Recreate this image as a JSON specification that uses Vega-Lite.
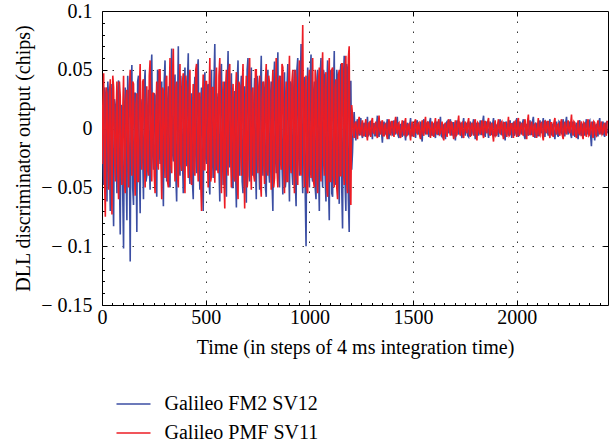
{
"$schema": "https://vega.github.io/schema/vega-lite/v6.json",
"width": 506, "height": 294,
"autosize": {"type": "none"},
"padding": {"left": 102, "top": 11, "right": 5, "bottom": 139},
"background": "white",
"config": {"view": {"stroke": "black", "strokeWidth": 1}, "font": "Liberation Serif"},
"data": {"values": [
{"t":0,"a":0.012,"b":-0.03},{"t":8,"a":-0.048,"b":0.047},{"t":16,"a":0.03,"b":-0.075},{"t":24,"a":-0.062,"b":0.03},{"t":32,"a":0.025,"b":-0.052},{"t":40,"a":-0.07,"b":0.042},{"t":48,"a":0.038,"b":-0.073},{"t":56,"a":-0.083,"b":0.035},{"t":64,"a":0.02,"b":-0.045},{"t":72,"a":-0.055,"b":0.04},
{"t":80,"a":0.041,"b":-0.06},{"t":88,"a":-0.09,"b":0.028},{"t":96,"a":0.018,"b":-0.048},{"t":104,"a":-0.102,"b":0.045},{"t":112,"a":0.035,"b":-0.055},{"t":120,"a":-0.078,"b":0.033},{"t":128,"a":0.022,"b":-0.05},{"t":136,"a":-0.113,"b":0.05},{"t":144,"a":0.054,"b":-0.04},{"t":152,"a":-0.065,"b":0.038},
{"t":160,"a":0.03,"b":-0.057},{"t":168,"a":-0.088,"b":0.03},{"t":176,"a":0.045,"b":-0.045},{"t":184,"a":-0.072,"b":0.055},{"t":192,"a":0.012,"b":-0.035},{"t":200,"a":-0.06,"b":0.042},{"t":208,"a":0.05,"b":-0.05},{"t":216,"a":-0.04,"b":0.036},{"t":224,"a":0.033,"b":-0.04},{"t":232,"a":-0.052,"b":0.058},
{"t":240,"a":0.063,"b":-0.045},{"t":248,"a":-0.035,"b":0.03},{"t":256,"a":0.028,"b":-0.055},{"t":264,"a":-0.058,"b":0.04},{"t":272,"a":0.048,"b":-0.035},{"t":280,"a":-0.03,"b":0.05},{"t":288,"a":0.04,"b":-0.06},{"t":296,"a":-0.066,"b":0.032},{"t":304,"a":0.058,"b":-0.042},{"t":312,"a":-0.045,"b":0.045},
{"t":320,"a":0.036,"b":-0.05},{"t":328,"a":-0.05,"b":0.06},{"t":336,"a":0.068,"b":-0.038},{"t":344,"a":-0.028,"b":0.068},{"t":352,"a":0.046,"b":-0.045},{"t":360,"a":-0.062,"b":0.04},{"t":368,"a":0.07,"b":-0.05},{"t":376,"a":-0.04,"b":0.055},{"t":384,"a":0.025,"b":-0.036},{"t":392,"a":-0.055,"b":0.047},
{"t":400,"a":0.052,"b":-0.055},{"t":408,"a":-0.032,"b":0.035},{"t":416,"a":0.064,"b":-0.042},{"t":424,"a":-0.047,"b":0.05},{"t":432,"a":0.03,"b":-0.048},{"t":440,"a":-0.06,"b":0.038},{"t":448,"a":0.044,"b":-0.04},{"t":456,"a":-0.038,"b":0.055},{"t":464,"a":0.059,"b":-0.045},{"t":472,"a":-0.052,"b":0.03},
{"t":480,"a":0.035,"b":-0.07},{"t":488,"a":-0.07,"b":0.046},{"t":496,"a":0.048,"b":-0.035},{"t":504,"a":-0.03,"b":0.04},{"t":512,"a":0.038,"b":-0.05},{"t":520,"a":-0.056,"b":0.06},{"t":528,"a":0.05,"b":-0.04},{"t":536,"a":-0.042,"b":0.035},{"t":544,"a":0.072,"b":-0.046},{"t":552,"a":-0.035,"b":0.052},
{"t":560,"a":0.03,"b":-0.038},{"t":568,"a":-0.062,"b":0.06},{"t":576,"a":0.055,"b":-0.055},{"t":584,"a":-0.048,"b":0.04},{"t":592,"a":0.04,"b":-0.068},{"t":600,"a":-0.058,"b":0.05},{"t":608,"a":0.066,"b":-0.04},{"t":616,"a":-0.033,"b":0.055},{"t":624,"a":0.047,"b":-0.05},{"t":632,"a":-0.05,"b":0.038},
{"t":640,"a":0.032,"b":-0.045},{"t":648,"a":-0.067,"b":0.048},{"t":656,"a":0.058,"b":-0.06},{"t":664,"a":-0.04,"b":0.036},{"t":672,"a":0.045,"b":-0.04},{"t":680,"a":-0.055,"b":0.055},{"t":688,"a":0.036,"b":-0.068},{"t":696,"a":-0.063,"b":0.045},{"t":704,"a":0.06,"b":-0.04},{"t":712,"a":-0.045,"b":0.06},
{"t":720,"a":0.052,"b":-0.052},{"t":728,"a":-0.034,"b":0.035},{"t":736,"a":0.043,"b":-0.045},{"t":744,"a":-0.06,"b":0.05},{"t":752,"a":0.034,"b":-0.038},{"t":760,"a":-0.052,"b":0.045},{"t":768,"a":0.062,"b":-0.058},{"t":776,"a":-0.04,"b":0.04},{"t":784,"a":0.03,"b":-0.047},{"t":792,"a":-0.058,"b":0.055},
{"t":800,"a":0.05,"b":-0.04},{"t":808,"a":-0.046,"b":0.038},{"t":816,"a":0.04,"b":-0.052},{"t":824,"a":-0.07,"b":0.05},{"t":832,"a":0.057,"b":-0.042},{"t":840,"a":-0.038,"b":0.06},{"t":848,"a":0.065,"b":-0.05},{"t":856,"a":-0.05,"b":0.045},{"t":864,"a":0.033,"b":-0.035},{"t":872,"a":-0.056,"b":0.052},
{"t":880,"a":0.048,"b":-0.055},{"t":888,"a":-0.042,"b":0.04},{"t":896,"a":0.055,"b":-0.045},{"t":904,"a":-0.062,"b":0.062},{"t":912,"a":0.038,"b":-0.038},{"t":920,"a":-0.048,"b":0.05},{"t":928,"a":0.05,"b":-0.055},{"t":936,"a":-0.066,"b":0.042},{"t":944,"a":0.06,"b":-0.048},{"t":952,"a":-0.04,"b":0.058},
{"t":960,"a":0.072,"b":-0.04},{"t":968,"a":-0.055,"b":0.088},{"t":976,"a":0.044,"b":-0.05},{"t":984,"a":-0.1,"b":0.045},{"t":992,"a":0.052,"b":-0.055},{"t":1000,"a":-0.05,"b":0.05},{"t":1008,"a":0.063,"b":-0.042},{"t":1016,"a":-0.045,"b":0.06},{"t":1024,"a":0.04,"b":-0.05},{"t":1032,"a":-0.06,"b":0.04},
{"t":1040,"a":0.05,"b":-0.055},{"t":1048,"a":-0.07,"b":0.052},{"t":1056,"a":0.06,"b":-0.045},{"t":1064,"a":-0.05,"b":0.065},{"t":1072,"a":0.045,"b":-0.04},{"t":1080,"a":-0.062,"b":0.048},{"t":1088,"a":0.058,"b":-0.058},{"t":1096,"a":-0.078,"b":0.06},{"t":1104,"a":0.05,"b":-0.045},{"t":1112,"a":-0.058,"b":0.052},
{"t":1120,"a":0.066,"b":-0.05},{"t":1128,"a":-0.048,"b":0.042},{"t":1136,"a":0.042,"b":-0.06},{"t":1144,"a":-0.064,"b":0.05},{"t":1152,"a":0.055,"b":-0.04},{"t":1160,"a":-0.085,"b":0.055},{"t":1168,"a":0.062,"b":-0.048},{"t":1176,"a":-0.07,"b":0.062},{"t":1184,"a":0.05,"b":-0.055},{"t":1192,"a":-0.088,"b":0.07},
{"t":1200,"a":0.04,"b":-0.065},
{"t":4,"a":-0.02,"b":0.02},{"t":12,"a":0.035,"b":-0.04},{"t":20,"a":-0.01,"b":0.035},{"t":28,"a":0.04,"b":-0.015},{"t":36,"a":-0.03,"b":0.03},{"t":44,"a":0.015,"b":-0.025},{"t":52,"a":-0.045,"b":0.045},{"t":60,"a":0.025,"b":-0.02},{"t":68,"a":-0.015,"b":0.01},{"t":76,"a":0.03,"b":-0.035},
{"t":84,"a":-0.04,"b":0.04},{"t":92,"a":0.02,"b":-0.03},{"t":100,"a":-0.055,"b":0.015},{"t":108,"a":0.01,"b":-0.045},{"t":116,"a":-0.035,"b":0.025},{"t":124,"a":0.045,"b":-0.02},{"t":132,"a":-0.025,"b":0.035},{"t":140,"a":0.02,"b":-0.01},{"t":148,"a":-0.05,"b":0.04},{"t":156,"a":0.03,"b":-0.03},
{"t":164,"a":-0.015,"b":0.02},{"t":172,"a":0.04,"b":-0.045},{"t":180,"a":-0.03,"b":0.03},{"t":188,"a":0.025,"b":-0.015},{"t":196,"a":-0.02,"b":0.04},{"t":204,"a":0.035,"b":-0.025},{"t":212,"a":-0.045,"b":0.02},{"t":220,"a":0.015,"b":-0.035},{"t":228,"a":-0.03,"b":0.045},{"t":236,"a":0.045,"b":-0.02},
{"t":244,"a":-0.02,"b":0.03},{"t":252,"a":0.03,"b":-0.04},{"t":260,"a":-0.04,"b":0.015},{"t":268,"a":0.05,"b":-0.03},{"t":276,"a":-0.015,"b":0.05},{"t":284,"a":0.025,"b":-0.025},{"t":292,"a":-0.035,"b":0.035},{"t":300,"a":0.04,"b":-0.02},{"t":308,"a":-0.025,"b":0.04},{"t":316,"a":0.02,"b":-0.045},
{"t":324,"a":-0.045,"b":0.025},{"t":332,"a":0.035,"b":-0.03},{"t":340,"a":-0.02,"b":0.045},{"t":348,"a":0.03,"b":-0.015},{"t":356,"a":-0.04,"b":0.035},{"t":364,"a":0.015,"b":-0.04},{"t":372,"a":-0.03,"b":0.02},{"t":380,"a":0.045,"b":-0.03},{"t":388,"a":-0.025,"b":0.04},{"t":396,"a":0.035,"b":-0.025},
{"t":404,"a":-0.015,"b":0.045},{"t":412,"a":0.04,"b":-0.02},{"t":420,"a":-0.035,"b":0.03},{"t":428,"a":0.02,"b":-0.04},{"t":436,"a":-0.045,"b":0.015},{"t":444,"a":0.03,"b":-0.035},{"t":452,"a":-0.02,"b":0.05},{"t":460,"a":0.05,"b":-0.025},{"t":468,"a":-0.03,"b":0.03},{"t":476,"a":0.025,"b":-0.045},
{"t":484,"a":-0.04,"b":0.02},{"t":492,"a":0.015,"b":-0.035},{"t":500,"a":-0.025,"b":0.04},{"t":508,"a":0.035,"b":-0.02},{"t":516,"a":-0.045,"b":0.025},{"t":524,"a":0.03,"b":-0.045},{"t":532,"a":-0.02,"b":0.035},{"t":540,"a":0.04,"b":-0.015},{"t":548,"a":-0.035,"b":0.04},{"t":556,"a":0.02,"b":-0.03},
{"t":564,"a":-0.03,"b":0.045},{"t":572,"a":0.045,"b":-0.025},{"t":580,"a":-0.015,"b":0.02},{"t":588,"a":0.025,"b":-0.04},{"t":596,"a":-0.04,"b":0.035},{"t":604,"a":0.035,"b":-0.03},{"t":612,"a":-0.025,"b":0.05},{"t":620,"a":0.03,"b":-0.02},{"t":628,"a":-0.05,"b":0.025},{"t":636,"a":0.02,"b":-0.04},
{"t":644,"a":-0.035,"b":0.03},{"t":652,"a":0.04,"b":-0.045},{"t":660,"a":-0.02,"b":0.04},{"t":668,"a":0.03,"b":-0.015},{"t":676,"a":-0.045,"b":0.035},{"t":684,"a":0.025,"b":-0.03},{"t":692,"a":-0.03,"b":0.02},{"t":700,"a":0.05,"b":-0.05},{"t":708,"a":-0.015,"b":0.045},{"t":716,"a":0.035,"b":-0.025},
{"t":724,"a":-0.04,"b":0.03},{"t":732,"a":0.02,"b":-0.04},{"t":740,"a":-0.03,"b":0.05},{"t":748,"a":0.045,"b":-0.02},{"t":756,"a":-0.025,"b":0.035},{"t":764,"a":0.035,"b":-0.045},{"t":772,"a":-0.02,"b":0.025},{"t":780,"a":0.04,"b":-0.03},{"t":788,"a":-0.05,"b":0.04},{"t":796,"a":0.03,"b":-0.035},
{"t":804,"a":-0.035,"b":0.045},{"t":812,"a":0.025,"b":-0.02},{"t":820,"a":-0.045,"b":0.03},{"t":828,"a":0.04,"b":-0.05},{"t":836,"a":-0.02,"b":0.025},{"t":844,"a":0.03,"b":-0.035},{"t":852,"a":-0.04,"b":0.04},{"t":860,"a":0.045,"b":-0.025},{"t":868,"a":-0.03,"b":0.055},{"t":876,"a":0.02,"b":-0.03},
{"t":884,"a":-0.05,"b":0.02},{"t":892,"a":0.035,"b":-0.045},{"t":900,"a":-0.025,"b":0.035},{"t":908,"a":0.04,"b":-0.03},{"t":916,"a":-0.035,"b":0.04},{"t":924,"a":0.03,"b":-0.025},{"t":932,"a":-0.045,"b":0.05},{"t":940,"a":0.05,"b":-0.04},{"t":948,"a":-0.02,"b":0.03},{"t":956,"a":0.035,"b":-0.035},
{"t":964,"a":-0.03,"b":0.045},{"t":972,"a":0.04,"b":-0.02},{"t":980,"a":-0.055,"b":0.035},{"t":988,"a":0.025,"b":-0.05},{"t":996,"a":-0.035,"b":0.04},{"t":1004,"a":0.045,"b":-0.03},{"t":1012,"a":-0.04,"b":0.025},{"t":1020,"a":0.03,"b":-0.045},{"t":1028,"a":-0.05,"b":0.05},{"t":1036,"a":0.04,"b":-0.035},
{"t":1044,"a":-0.035,"b":0.04},{"t":1052,"a":0.045,"b":-0.03},{"t":1060,"a":-0.03,"b":0.045},{"t":1068,"a":0.05,"b":-0.025},{"t":1076,"a":-0.04,"b":0.035},{"t":1084,"a":0.035,"b":-0.05},{"t":1092,"a":-0.045,"b":0.04},{"t":1100,"a":0.04,"b":-0.045},{"t":1108,"a":-0.055,"b":0.05},{"t":1116,"a":0.03,"b":-0.04},
{"t":1124,"a":-0.04,"b":0.035},{"t":1132,"a":0.05,"b":-0.05},{"t":1140,"a":-0.035,"b":0.045},{"t":1148,"a":0.045,"b":-0.04},{"t":1156,"a":-0.05,"b":0.055},{"t":1164,"a":0.04,"b":-0.035},{"t":1172,"a":-0.045,"b":0.05},{"t":1180,"a":0.055,"b":-0.045},{"t":1188,"a":-0.06,"b":0.06},{"t":1196,"a":0.04,"b":-0.05},
{"t":1204,"a":-0.035,"b":0.02},
{"t":1208,"a":-0.02,"b":0.012},{"t":1216,"a":0.014,"b":-0.008},{"t":1224,"a":-0.01,"b":0.006},{"t":1232,"a":0.008,"b":-0.009},{"t":1240,"a":-0.006,"b":0.01},{"t":1248,"a":0.009,"b":-0.005},{"t":1256,"a":-0.008,"b":0.007},{"t":1264,"a":0.005,"b":-0.006},{"t":1272,"a":-0.007,"b":0.008},{"t":1280,"a":0.01,"b":-0.01},
{"t":1288,"a":-0.005,"b":0.005},{"t":1296,"a":0.006,"b":-0.007},{"t":1304,"a":-0.009,"b":0.009},{"t":1312,"a":0.004,"b":-0.004},{"t":1320,"a":-0.006,"b":0.006},{"t":1328,"a":0.011,"b":-0.008},{"t":1336,"a":-0.007,"b":0.011},{"t":1344,"a":0.005,"b":-0.005},{"t":1352,"a":-0.012,"b":0.007},{"t":1360,"a":0.006,"b":-0.006},
{"t":1368,"a":-0.004,"b":0.004},{"t":1376,"a":0.008,"b":-0.009},{"t":1384,"a":-0.009,"b":0.008},{"t":1392,"a":0.003,"b":-0.005},{"t":1400,"a":-0.006,"b":0.006},{"t":1408,"a":0.007,"b":-0.007},{"t":1416,"a":-0.005,"b":0.01},{"t":1424,"a":0.01,"b":-0.004},{"t":1432,"a":-0.008,"b":0.005},{"t":1440,"a":0.004,"b":-0.008},
{"t":1448,"a":-0.007,"b":0.007},{"t":1456,"a":0.006,"b":-0.006},{"t":1464,"a":-0.01,"b":0.009},{"t":1472,"a":0.005,"b":-0.005},{"t":1480,"a":-0.004,"b":0.004},{"t":1488,"a":0.009,"b":-0.01},{"t":1496,"a":-0.006,"b":0.006},{"t":1504,"a":0.003,"b":-0.007},{"t":1512,"a":-0.008,"b":0.008},{"t":1520,"a":0.007,"b":-0.004},
{"t":1528,"a":-0.005,"b":0.005},{"t":1536,"a":0.006,"b":-0.009},{"t":1544,"a":-0.011,"b":0.007},{"t":1552,"a":0.008,"b":-0.006},{"t":1560,"a":-0.004,"b":0.01},{"t":1568,"a":0.005,"b":-0.005},{"t":1576,"a":-0.007,"b":0.004},{"t":1584,"a":0.009,"b":-0.008},{"t":1592,"a":-0.006,"b":0.006},{"t":1600,"a":0.004,"b":-0.007},
{"t":1608,"a":-0.008,"b":0.009},{"t":1616,"a":0.006,"b":-0.005},{"t":1624,"a":-0.005,"b":0.008},{"t":1632,"a":0.01,"b":-0.004},{"t":1640,"a":-0.007,"b":0.006},{"t":1648,"a":0.003,"b":-0.01},{"t":1656,"a":-0.009,"b":0.005},{"t":1664,"a":0.006,"b":-0.007},{"t":1672,"a":-0.004,"b":0.008},{"t":1680,"a":0.008,"b":-0.006},
{"t":1688,"a":-0.006,"b":0.004},{"t":1696,"a":0.005,"b":-0.009},{"t":1704,"a":-0.01,"b":0.007},{"t":1712,"a":0.007,"b":-0.005},{"t":1720,"a":-0.005,"b":0.011},{"t":1728,"a":0.004,"b":-0.006},{"t":1736,"a":-0.008,"b":0.005},{"t":1744,"a":0.009,"b":-0.008},{"t":1752,"a":-0.006,"b":0.006},{"t":1760,"a":0.005,"b":-0.004},
{"t":1768,"a":-0.007,"b":0.009},{"t":1776,"a":0.006,"b":-0.007},{"t":1784,"a":-0.004,"b":0.005},{"t":1792,"a":0.008,"b":-0.006},{"t":1800,"a":-0.009,"b":0.008},{"t":1808,"a":0.003,"b":-0.01},{"t":1816,"a":-0.006,"b":0.004},{"t":1824,"a":0.007,"b":-0.005},{"t":1832,"a":-0.005,"b":0.007},{"t":1840,"a":0.011,"b":-0.008},
{"t":1848,"a":-0.007,"b":0.006},{"t":1856,"a":0.004,"b":-0.004},{"t":1864,"a":-0.008,"b":0.009},{"t":1872,"a":0.006,"b":-0.006},{"t":1880,"a":-0.005,"b":0.005},{"t":1888,"a":0.009,"b":-0.011},{"t":1896,"a":-0.006,"b":0.007},{"t":1904,"a":0.003,"b":-0.005},{"t":1912,"a":-0.007,"b":0.008},{"t":1920,"a":0.008,"b":-0.004},
{"t":1928,"a":-0.005,"b":0.006},{"t":1936,"a":0.006,"b":-0.009},{"t":1944,"a":-0.01,"b":0.005},{"t":1952,"a":0.004,"b":-0.007},{"t":1960,"a":-0.006,"b":0.01},{"t":1968,"a":0.007,"b":-0.005},{"t":1976,"a":-0.008,"b":0.004},{"t":1984,"a":0.005,"b":-0.008},{"t":1992,"a":-0.004,"b":0.006},{"t":2000,"a":0.009,"b":-0.007},
{"t":2008,"a":-0.007,"b":0.009},{"t":2016,"a":0.006,"b":-0.004},{"t":2024,"a":-0.005,"b":0.005},{"t":2032,"a":0.008,"b":-0.006},{"t":2040,"a":-0.009,"b":0.008},{"t":2048,"a":0.004,"b":-0.009},{"t":2056,"a":-0.006,"b":0.012},{"t":2064,"a":0.007,"b":-0.005},{"t":2072,"a":-0.005,"b":0.006},{"t":2080,"a":0.01,"b":-0.007},
{"t":2088,"a":-0.008,"b":0.004},{"t":2096,"a":0.003,"b":-0.008},{"t":2104,"a":-0.006,"b":0.009},{"t":2112,"a":0.007,"b":-0.006},{"t":2120,"a":-0.004,"b":0.005},{"t":2128,"a":0.009,"b":-0.01},{"t":2136,"a":-0.007,"b":0.007},{"t":2144,"a":0.005,"b":-0.004},{"t":2152,"a":-0.006,"b":0.006},{"t":2160,"a":0.008,"b":-0.008},
{"t":2168,"a":-0.005,"b":0.005},{"t":2176,"a":0.004,"b":-0.007},{"t":2184,"a":-0.009,"b":0.009},{"t":2192,"a":0.006,"b":-0.005},{"t":2200,"a":-0.007,"b":0.004},{"t":2208,"a":0.005,"b":-0.006},{"t":2216,"a":-0.004,"b":0.008},{"t":2224,"a":0.008,"b":-0.009},{"t":2232,"a":-0.006,"b":0.006},{"t":2240,"a":0.01,"b":-0.005},
{"t":2248,"a":-0.005,"b":0.007},{"t":2256,"a":0.004,"b":-0.004},{"t":2264,"a":-0.008,"b":0.012},{"t":2272,"a":0.006,"b":-0.006},{"t":2280,"a":-0.007,"b":0.005},{"t":2288,"a":0.005,"b":-0.008},{"t":2296,"a":-0.009,"b":0.007},{"t":2304,"a":0.007,"b":-0.005},{"t":2312,"a":-0.006,"b":0.006},{"t":2320,"a":0.004,"b":-0.009},
{"t":2328,"a":-0.006,"b":0.004},{"t":2336,"a":0.008,"b":-0.007},{"t":2344,"a":-0.005,"b":0.008},{"t":2352,"a":0.007,"b":-0.005},{"t":2360,"a":-0.015,"b":0.006},{"t":2368,"a":0.006,"b":-0.008},{"t":2376,"a":-0.01,"b":0.005},{"t":2384,"a":0.004,"b":-0.006},{"t":2392,"a":-0.006,"b":0.007},{"t":2400,"a":0.009,"b":-0.005},
{"t":2408,"a":-0.005,"b":0.006},{"t":2416,"a":0.006,"b":-0.004},{"t":2424,"a":-0.007,"b":0.005},{"t":2432,"a":0.005,"b":-0.006},{"t":2440,"a":-0.004,"b":0.006},
{"t":1212,"a":0.004,"b":-0.003},{"t":1220,"a":-0.003,"b":0.004},{"t":1228,"a":0.005,"b":-0.002},{"t":1236,"a":-0.002,"b":0.005},{"t":1244,"a":0.006,"b":-0.004},{"t":1252,"a":-0.004,"b":0.003},{"t":1260,"a":0.003,"b":-0.006},{"t":1268,"a":-0.005,"b":0.002},{"t":1276,"a":0.002,"b":-0.005},{"t":1284,"a":-0.006,"b":0.004},
{"t":1292,"a":0.005,"b":-0.004},{"t":1300,"a":-0.002,"b":0.006},{"t":1308,"a":0.004,"b":-0.003},{"t":1316,"a":-0.006,"b":0.002},{"t":1324,"a":0.003,"b":-0.005},{"t":1332,"a":-0.004,"b":0.004},{"t":1340,"a":0.006,"b":-0.002},{"t":1348,"a":-0.003,"b":0.005},{"t":1356,"a":0.002,"b":-0.006},{"t":1364,"a":-0.005,"b":0.003},
{"t":1372,"a":0.003,"b":-0.005},{"t":1380,"a":-0.005,"b":0.003},{"t":1388,"a":0.006,"b":-0.004},{"t":1396,"a":-0.002,"b":0.006},{"t":1404,"a":0.004,"b":-0.002},{"t":1412,"a":-0.003,"b":0.005},{"t":1420,"a":0.005,"b":-0.003},{"t":1428,"a":-0.006,"b":0.004},{"t":1436,"a":0.002,"b":-0.006},{"t":1444,"a":-0.004,"b":0.002},
{"t":1452,"a":0.006,"b":-0.002},{"t":1460,"a":-0.004,"b":0.005},{"t":1468,"a":0.002,"b":-0.006},{"t":1476,"a":-0.005,"b":0.003},{"t":1484,"a":0.003,"b":-0.004},{"t":1492,"a":-0.006,"b":0.002},{"t":1500,"a":0.004,"b":-0.005},{"t":1508,"a":-0.002,"b":0.006},{"t":1516,"a":0.005,"b":-0.003},{"t":1524,"a":-0.003,"b":0.004},
{"t":1532,"a":0.002,"b":-0.006},{"t":1540,"a":-0.006,"b":0.002},{"t":1548,"a":0.005,"b":-0.004},{"t":1556,"a":-0.003,"b":0.005},{"t":1564,"a":0.004,"b":-0.003},{"t":1572,"a":-0.002,"b":0.006},{"t":1580,"a":0.006,"b":-0.002},{"t":1588,"a":-0.004,"b":0.003},{"t":1596,"a":0.003,"b":-0.005},{"t":1604,"a":-0.005,"b":0.004},
{"t":1612,"a":0.004,"b":-0.003},{"t":1620,"a":-0.005,"b":0.004},{"t":1628,"a":0.003,"b":-0.005},{"t":1636,"a":-0.006,"b":0.002},{"t":1644,"a":0.002,"b":-0.006},{"t":1652,"a":-0.004,"b":0.003},{"t":1660,"a":0.005,"b":-0.004},{"t":1668,"a":-0.002,"b":0.005},{"t":1676,"a":0.006,"b":-0.002},{"t":1684,"a":-0.003,"b":0.006},
{"t":1692,"a":0.005,"b":-0.004},{"t":1700,"a":-0.004,"b":0.002},{"t":1708,"a":0.002,"b":-0.006},{"t":1716,"a":-0.003,"b":0.005},{"t":1724,"a":0.006,"b":-0.003},{"t":1732,"a":-0.005,"b":0.004},{"t":1740,"a":0.004,"b":-0.005},{"t":1748,"a":-0.002,"b":0.003},{"t":1756,"a":0.003,"b":-0.002},{"t":1764,"a":-0.006,"b":0.005},
{"t":1772,"a":0.003,"b":-0.005},{"t":1780,"a":-0.006,"b":0.003},{"t":1788,"a":0.004,"b":-0.002},{"t":1796,"a":-0.002,"b":0.006},{"t":1804,"a":0.005,"b":-0.004},{"t":1812,"a":-0.003,"b":0.005},{"t":1820,"a":0.002,"b":-0.003},{"t":1828,"a":-0.005,"b":0.002},{"t":1836,"a":0.006,"b":-0.004},{"t":1844,"a":-0.004,"b":0.006},
{"t":1852,"a":0.006,"b":-0.002},{"t":1860,"a":-0.002,"b":0.006},{"t":1868,"a":0.003,"b":-0.004},{"t":1876,"a":-0.005,"b":0.003},{"t":1884,"a":0.004,"b":-0.005},{"t":1892,"a":-0.006,"b":0.002},{"t":1900,"a":0.002,"b":-0.006},{"t":1908,"a":-0.003,"b":0.004},{"t":1916,"a":0.005,"b":-0.003},{"t":1924,"a":-0.004,"b":0.005},
{"t":1932,"a":0.002,"b":-0.004},{"t":1940,"a":-0.004,"b":0.005},{"t":1948,"a":0.006,"b":-0.003},{"t":1956,"a":-0.003,"b":0.002},{"t":1964,"a":0.005,"b":-0.006},{"t":1972,"a":-0.002,"b":0.004},{"t":1980,"a":0.004,"b":-0.002},{"t":1988,"a":-0.006,"b":0.005},{"t":1996,"a":0.003,"b":-0.003},{"t":2004,"a":-0.005,"b":0.006},
{"t":2012,"a":0.004,"b":-0.006},{"t":2020,"a":-0.003,"b":0.003},{"t":2028,"a":0.005,"b":-0.004},{"t":2036,"a":-0.006,"b":0.005},{"t":2044,"a":0.002,"b":-0.002},{"t":2052,"a":-0.004,"b":0.006},{"t":2060,"a":0.003,"b":-0.005},{"t":2068,"a":-0.005,"b":0.002},{"t":2076,"a":0.006,"b":-0.004},{"t":2084,"a":-0.002,"b":0.003},
{"t":2092,"a":0.005,"b":-0.003},{"t":2100,"a":-0.006,"b":0.002},{"t":2108,"a":0.003,"b":-0.005},{"t":2116,"a":-0.002,"b":0.004},{"t":2124,"a":0.004,"b":-0.006},{"t":2132,"a":-0.005,"b":0.003},{"t":2140,"a":0.006,"b":-0.002},{"t":2148,"a":-0.003,"b":0.006},{"t":2156,"a":0.002,"b":-0.004},{"t":2164,"a":-0.004,"b":0.005},
{"t":2172,"a":0.003,"b":-0.005},{"t":2180,"a":-0.004,"b":0.006},{"t":2188,"a":0.002,"b":-0.002},{"t":2196,"a":-0.005,"b":0.003},{"t":2204,"a":0.006,"b":-0.004},{"t":2212,"a":-0.003,"b":0.005},{"t":2220,"a":0.004,"b":-0.006},{"t":2228,"a":-0.006,"b":0.002},{"t":2236,"a":0.005,"b":-0.003},{"t":2244,"a":-0.002,"b":0.004},
{"t":2252,"a":0.006,"b":-0.002},{"t":2260,"a":-0.005,"b":0.004},{"t":2268,"a":0.004,"b":-0.003},{"t":2276,"a":-0.003,"b":0.006},{"t":2284,"a":0.002,"b":-0.005},{"t":2292,"a":-0.006,"b":0.002},{"t":2300,"a":0.005,"b":-0.004},{"t":2308,"a":-0.004,"b":0.003},{"t":2316,"a":0.003,"b":-0.006},{"t":2324,"a":-0.002,"b":0.005},
{"t":2332,"a":0.004,"b":-0.004},{"t":2340,"a":-0.002,"b":0.005},{"t":2348,"a":0.006,"b":-0.006},{"t":2356,"a":-0.005,"b":0.002},{"t":2364,"a":0.003,"b":-0.003},{"t":2372,"a":-0.004,"b":0.006},{"t":2380,"a":0.002,"b":-0.005},{"t":2388,"a":-0.006,"b":0.004},{"t":2396,"a":0.005,"b":-0.002},{"t":2404,"a":-0.003,"b":0.003},
{"t":2412,"a":0.003,"b":-0.005},{"t":2420,"a":-0.005,"b":0.003},{"t":2428,"a":0.004,"b":-0.004},{"t":2436,"a":-0.002,"b":0.006}
]},
"transform": [{"fold": ["a", "b"], "as": ["s", "v"]}],
"layer": [
{
"mark": {"type": "line", "strokeWidth": 1.6, "clip": true},
"encoding": {
"x": {"field": "t", "type": "quantitative",
"scale": {"domain": [0, 2440], "nice": false, "zero": false},
"axis": {"orient": "bottom",
"values": [0,50,100,150,200,250,300,350,400,450,500,550,600,650,700,750,800,850,900,950,1000,1050,1100,1150,1200,1250,1300,1350,1400,1450,1500,1550,1600,1650,1700,1750,1800,1850,1900,1950,2000,2050,2100,2150,2200,2250,2300,2350,2400],
"format": "d",
"labelExpr": "datum.value % 500 === 0 ? datum.label : ''",
"tickSize": {"condition": {"test": "datum.value % 500 === 0", "value": -5}, "value": -2.5},
"tickColor": "black", "tickWidth": 1,
"grid": true, "gridColor": "#333333", "gridDash": [1.5, 8.5], "gridWidth": 1,
"gridOpacity": {"condition": {"test": "datum.value % 500 === 0 && datum.value > 0", "value": 1}, "value": 0},
"domain": false,
"labelFont": "Liberation Serif", "labelFontSize": 20, "labelColor": "black", "labelPadding": 7, "labelFlush": false, "labelOverlap": false,
"title": "Time (in steps of 4 ms integration time)",
"titleFont": "Liberation Serif", "titleFontSize": 20, "titleFontWeight": "normal", "titleColor": "black", "titlePadding": 8}},
"y": {"field": "v", "type": "quantitative",
"scale": {"domain": [-0.15, 0.1], "nice": false, "zero": false},
"axis": {"orient": "left",
"values": [-0.15,-0.14,-0.13,-0.12,-0.11,-0.1,-0.09,-0.08,-0.07,-0.06,-0.05,-0.04,-0.03,-0.02,-0.01,0,0.01,0.02,0.03,0.04,0.05,0.06,0.07,0.08,0.09,0.1],
"labelExpr": "abs(datum.value*20-round(datum.value*20))<0.001 ? (datum.value < -0.001 ? '− ' + format(-datum.value, '~g') : format(datum.value, '~g')) : ''",
"tickSize": {"condition": {"test": "abs(datum.value*20-round(datum.value*20))<0.001", "value": -5}, "value": -2.5},
"tickColor": "black", "tickWidth": 1,
"grid": true, "gridColor": "#333333", "gridDash": [1.5, 8.5], "gridWidth": 1,
"gridOpacity": {"condition": {"test": "abs(datum.value*20-round(datum.value*20))<0.001 && datum.value > -0.149 && datum.value < 0.099", "value": 1}, "value": 0},
"domain": false,
"labelFont": "Liberation Serif", "labelFontSize": 20, "labelColor": "black", "labelPadding": 15, "labelFlush": false, "labelOverlap": false,
"title": "DLL discriminator output (chips)",
"titleFont": "Liberation Serif", "titleFontSize": 20, "titleFontWeight": "normal", "titleColor": "black", "titlePadding": 7}},
"color": {"field": "s", "type": "nominal",
"scale": {"domain": ["a", "b"], "range": ["#3b4ea3", "#ec1c24"]},
"legend": {"orient": "none", "legendX": 21.5, "legendY": 383, "title": null,
"symbolType": "M-2,0H2", "symbolSize": 289, "symbolStrokeWidth": 1.5,
"labelFont": "Liberation Serif", "labelFontSize": 20, "labelColor": "black", "labelLimit": 400,
"labelOffset": 21, "rowPadding": 9, "padding": 0,
"labelExpr": "datum.value == 'a' ? 'Galileo FM2 SV12' : 'Galileo PMF SV11'"}}
}
},
{
"mark": {"type": "point", "opacity": 0},
"encoding": {
"x": {"field": "t", "type": "quantitative",
"axis": {"orient": "top", "values": [500, 1000, 1500, 2000], "labels": false, "tickSize": -5, "tickColor": "black", "domain": false, "grid": false, "title": null}},
"y": {"field": "v", "type": "quantitative",
"axis": {"orient": "right", "values": [-0.1, -0.05, 0, 0.05], "labels": false, "tickSize": -5, "tickColor": "black", "domain": false, "grid": false, "title": null}}
}
}
],
"resolve": {"axis": {"x": "independent", "y": "independent"}}
}
